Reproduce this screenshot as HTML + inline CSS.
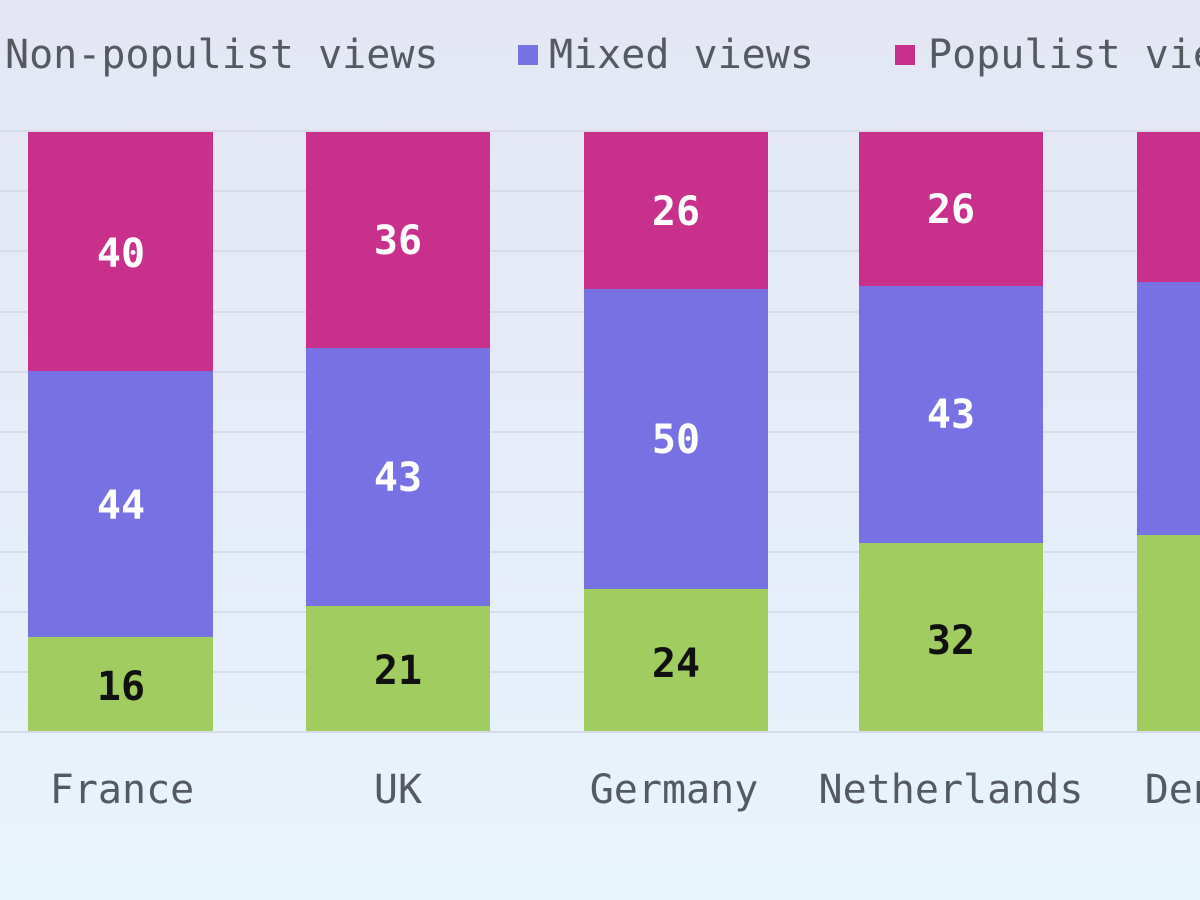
<!DOCTYPE html>
<html><head><style>
html,body{margin:0;padding:0;}
body{width:1200px;height:900px;overflow:hidden;background:linear-gradient(#e4e6f3,#e6ecf8 50%,#e8f4fc);}
svg{display:block}
text{font-family:"DejaVu Sans Mono","Liberation Mono",monospace;}
</style></head><body>
<svg width="1200" height="900" xmlns="http://www.w3.org/2000/svg">
<g stroke="#d4d8e4" stroke-width="1.5">
<line x1="0" x2="1200" y1="131" y2="131"/>
<line x1="0" x2="1200" y1="191" y2="191"/>
<line x1="0" x2="1200" y1="251" y2="251"/>
<line x1="0" x2="1200" y1="312" y2="312"/>
<line x1="0" x2="1200" y1="372" y2="372"/>
<line x1="0" x2="1200" y1="432" y2="432"/>
<line x1="0" x2="1200" y1="492" y2="492"/>
<line x1="0" x2="1200" y1="552" y2="552"/>
<line x1="0" x2="1200" y1="612" y2="612"/>
<line x1="0" x2="1200" y1="672" y2="672"/>
<line x1="0" x2="1200" y1="732" y2="732" stroke="#d0d4e0"/>
</g>
<g font-size="40" fill="#555a60">
<text x="5" y="68">Non-populist views</text>
<rect x="518" y="45" width="20" height="20" fill="#7771e3"/>
<text x="549" y="68">Mixed views</text>
<rect x="895" y="45" width="20" height="20" fill="#c8308c"/>
<text x="928" y="68">Populist views</text>
</g>
<!-- France -->
<rect x="28" y="132" width="185" height="239" fill="#c8308c"/>
<rect x="28" y="371" width="185" height="266" fill="#7771e3"/>
<rect x="28" y="637" width="185" height="94" fill="#a0cc60"/>
<!-- UK -->
<rect x="306" y="132" width="184" height="216" fill="#c8308c"/>
<rect x="306" y="348" width="184" height="258" fill="#7771e3"/>
<rect x="306" y="606" width="184" height="125" fill="#a0cc60"/>
<!-- Germany -->
<rect x="584" y="132" width="184" height="157" fill="#c8308c"/>
<rect x="584" y="289" width="184" height="300" fill="#7771e3"/>
<rect x="584" y="589" width="184" height="142" fill="#a0cc60"/>
<!-- Netherlands -->
<rect x="859" y="132" width="184" height="154" fill="#c8308c"/>
<rect x="859" y="286" width="184" height="257" fill="#7771e3"/>
<rect x="859" y="543" width="184" height="188" fill="#a0cc60"/>
<!-- Denmark -->
<rect x="1137" y="132" width="185" height="150" fill="#c8308c"/>
<rect x="1137" y="282" width="185" height="253" fill="#7771e3"/>
<rect x="1137" y="535" width="185" height="196" fill="#a0cc60"/>
<g font-size="40" font-weight="bold" text-anchor="middle" fill="#fff">
<text x="121" y="267">40</text><text x="121" y="519">44</text>
<text x="398" y="254">36</text><text x="398" y="491">43</text>
<text x="676" y="225">26</text><text x="676" y="453">50</text>
<text x="951" y="223">26</text><text x="951" y="428">43</text>
</g>
<g font-size="40" font-weight="bold" text-anchor="middle" fill="#111">
<text x="121" y="700">16</text>
<text x="398" y="684">21</text>
<text x="676" y="677">24</text>
<text x="951" y="654">32</text>
</g>
<g font-size="40" text-anchor="middle" fill="#555a60">
<text x="122" y="803">France</text>
<text x="398" y="803">UK</text>
<text x="674" y="803">Germany</text>
<text x="951" y="803">Netherlands</text>
<text x="1229" y="803">Denmark</text>
</g>
</svg>
</body></html>
